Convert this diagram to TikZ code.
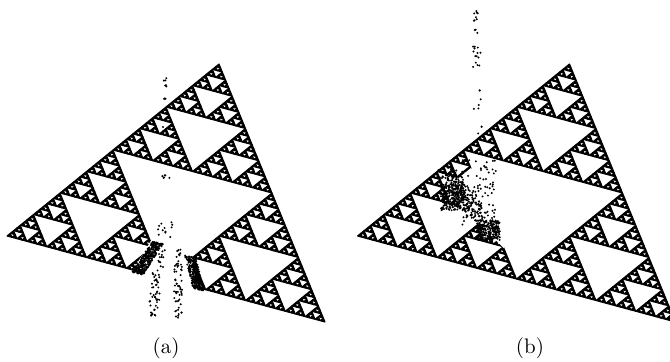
\documentclass[tikz,border=0pt]{standalone}

% recursive gasket in the unit triangle (0,0)--(1,0)--(0,1)
\newcommand\gasket[1]{%
  \ifnum#1=0
    \fill[gasketfill] (0,0) -- (1,0) -- (0,1) -- cycle;
  \else
    \begin{scope}[scale=0.5]\gasket{\numexpr#1-1\relax}\end{scope}%
    \begin{scope}[shift={(0.5,0)},scale=0.5]\gasket{\numexpr#1-1\relax}\end{scope}%
    \begin{scope}[shift={(0,0.5)},scale=0.5]\gasket{\numexpr#1-1\relax}\end{scope}%
  \fi}

\begin{document}
\begin{tikzpicture}[
    x=0.5pt, y=-0.5pt,
    gasketfill/.style={fill=black, draw=black, line width=0.55pt, line join=round},
    speck/.style={fill=black},
    sublabel/.style={font=\fontsize{10.5}{12}\selectfont},
]
\useasboundingbox (0,0) rectangle (670,361);

% Triangle (a)
\begin{scope}[shift={(7,236)}, x={(159pt,-43pt)}, y={(106pt,86pt)}]
  \gasket{6}
  % broken corners at the bottom
  \fill[white] (0.405,-0.03) -- (0.35,0.16) -- (0.5,0.128) -- (0.615,-0.03) -- cycle;
\end{scope}

% Triangle (b)
\begin{scope}[shift={(357.5,236)}, x={(159pt,-43pt)}, y={(106pt,86pt)}]
  \gasket{6}
  % broken edge of the left part
  \fill[white] (0.07,0.43) -- (0.07,0.36) -- (0.12,0.28) -- (0.18,0.23) -- (0.26,0.19)
    -- (0.33,0.15) -- (0.38,0.12) -- (0.30,0.35) -- cycle;
\end{scope}

\pgfmathsetseed{42}

% Scattered points (a)
\foreach \i in {1,...,320} {
  \pgfmathsetmacro\s{rnd}\pgfmathsetmacro\t{rnd}
  \fill[speck] ({132+20*\s+11*\t}, {272-31*\s+3*\t}) circle (0.55pt);
}
\foreach \i in {1,...,260} {
  \pgfmathsetmacro\s{rnd}\pgfmathsetmacro\t{rnd}
  \fill[speck] ({196+8*\s-11*\t}, {258+33*\s-3*\t}) circle (0.55pt);
}
\foreach \i in {1,...,60} {
  \pgfmathsetmacro\s{rnd}
  \fill[speck] ({160-7*\s+5*rand}, {250+66*\s}) circle (0.55pt);
}
\foreach \i in {1,...,60} {
  \pgfmathsetmacro\s{rnd}
  \fill[speck] ({178+4*rand}, {245+74*\s}) circle (0.55pt);
}
\foreach \i in {1,...,12}
  \fill[speck] ({165+8*rand}, {230+8*rand}) circle (0.55pt);
\foreach \i in {1,...,6}
  \fill[speck] ({166+4*rand}, {176+2*rand}) circle (0.55pt);
\foreach \i in {1,...,6}
  \fill[speck] ({165+2*rand}, {82+5*rand}) circle (0.55pt);
\foreach \i in {1,...,3}
  \fill[speck] ({164+2*rand}, {99+1*rand}) circle (0.55pt);
\fill[speck] (163,127) circle (0.55pt);

% Scattered points (b)
\foreach \i in {1,...,8}
  \fill[speck] ({476+2*rand}, {16+6*rand}) circle (0.55pt);
\foreach \i in {1,...,3}
  \fill[speck] ({476+2*rand}, {31+2*rand}) circle (0.55pt);
\foreach \i in {1,...,14}
  \fill[speck] ({477+4*rand}, {55+12*rand}) circle (0.55pt);
\foreach \i in {1,...,6}
  \fill[speck] ({477+4*rand}, {100+10*rand}) circle (0.55pt);
\foreach \i in {1,...,3}
  \fill[speck] ({480+2*rand}, {130+4*rand}) circle (0.55pt);
\foreach \i in {1,...,280} {
  \pgfmathsetmacro\s{rnd}
  \fill[speck] ({447+30*\s+9*rand}, {176+38*\s+9*rand}) circle (0.55pt);
}
\foreach \i in {1,...,160}
  \fill[speck] ({452+11*rand}, {198+13*rand}) circle (0.55pt);
\foreach \i in {1,...,220}
  \fill[speck] ({478+22*rnd}, {220+20*rnd}) circle (0.55pt);
\foreach \i in {1,...,80}
  \fill[speck] ({462+34*rnd}, {160+70*rnd}) circle (0.55pt);

% Labels
\node[sublabel] (laba) at (166,348) {(a)};
\node[sublabel] (labb) at (530,348) {(b)};

\end{tikzpicture}
\end{document}
